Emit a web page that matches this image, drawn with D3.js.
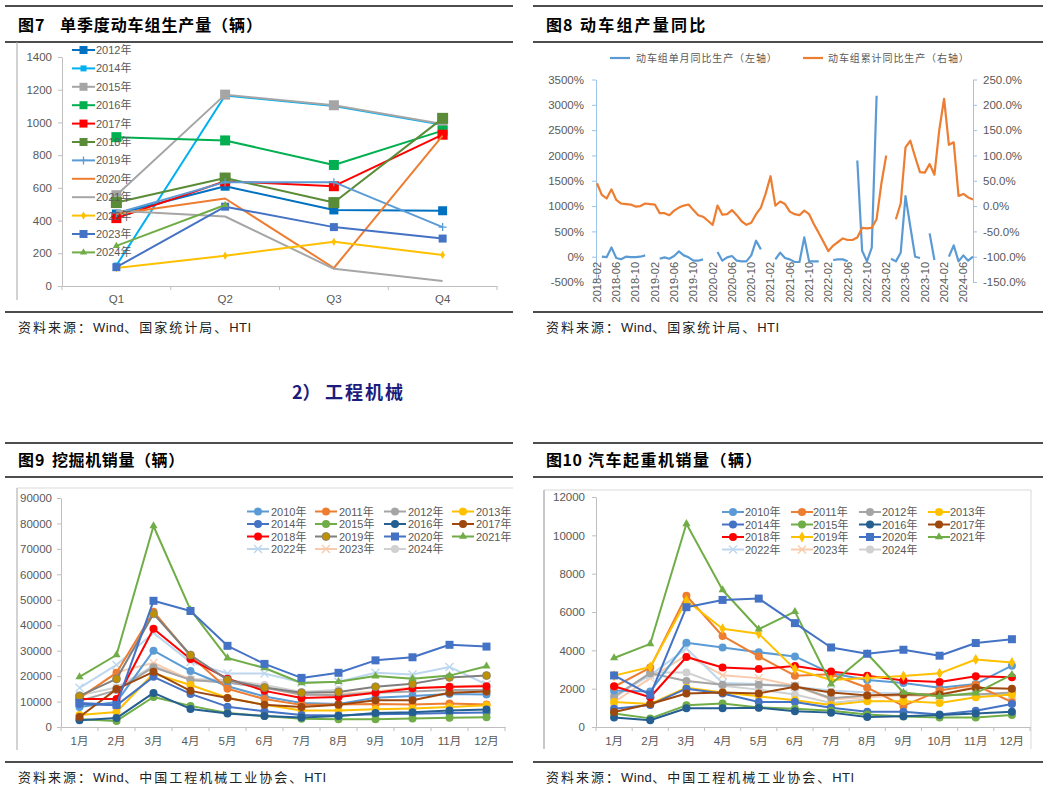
<!DOCTYPE html>
<html><head><meta charset="utf-8">
<script src="https://cdn.jsdelivr.net/npm/d3@7"></script>
<style>
body{margin:0;background:#fff;}
</style></head><body>
<svg id="c" width="1049" height="789"></svg>
<script>
// ================= DATA =================
// Fig 7: quarterly EMU production
const f7Quarters = ["Q1","Q2","Q3","Q4"];
const f7Ticks = [0,200,400,600,800,1000,1200,1400];
const f7Names = ["2012年","2014年","2015年","2016年","2017年","2018年","2019年","2020年","2021年","2022年","2023年","2024年"];
const f7_2012 = [440, 610, 465, 460];
const f7_2014 = [125, 1165, 1100, 985];
const f7_2015 = [555, 1170, 1105, 990];
const f7_2016 = [910, 890, 740, 950];
const f7_2017 = [415, 640, 610, 925];
const f7_2018 = [510, 660, 510, 1025];
const f7_2019 = [445, 635, 635, 360];
const f7_2020 = [440, 535, 110, 920];
const f7_2021 = [460, 425, 105, 30];
const f7_2022 = [110, 185, 270, 190];
const f7_2023 = [115, 485, 360, 290];
const f7_2024 = [245, 495, null, null];

// Fig 8: EMU production YoY (monthly from 2018-02 to 2024-08)
const f8Start = "2018-02", f8End = "2024-08";
const f8TickLabels = ["2018-02","2018-06","2018-10","2019-02","2019-06","2019-10","2020-02","2020-06","2020-10","2021-02","2021-06","2021-10","2022-02","2022-06","2022-10","2023-02","2023-06","2023-10","2024-02","2024-06"];
const f8LeftTicks = [-500,0,500,1000,1500,2000,2500,3000,3500];
const f8RightTicks = [-150,-100,-50,0,50,100,150,200,250];
const f8Single = [null,0,-10,184,-26,-50,0,-10,-10,0,26,null,null,-40,-13,-40,13,105,26,-13,-79,-79,-53,null,null,92,-79,-13,13,-79,-92,-92,26,316,145,null,null,-53,79,-26,-53,-105,-105,382,-92,-92,-92,null,null,-66,-53,-53,-92,null,1900,118,-92,180,3180,null,null,-40,-92,79,1197,592,0,-26,null,460,-66,null,null,0,224,-92,26,-79,0];
const f8Cum = [45,22,15,33,12,5,4,3,-1,0,5,4,3,-14,-14,-18,-9,-3,1,3,-8,-18,-21,-29,-37,1,-17,-16,-8,-18,-30,-37,-33,-16,-3,25,59,1,9,4,-11,-16,-18,-9,-16,-36,-53,-71,-89,-78,-71,-64,-67,-67,-62,-43,-44,-43,-26,45,100,null,-26,5,116,129,97,67,66,83,62,150,212,121,126,20,24,17,13];

// Fig 9: excavator sales
const monthsCN = ["1月","2月","3月","4月","5月","6月","7月","8月","9月","10月","11月","12月"];
const f9Ticks = [0,10000,20000,30000,40000,50000,60000,70000,80000,90000];
const yearNames = ["2010年","2011年","2012年","2013年","2014年","2015年","2016年","2017年","2018年","2019年","2020年","2021年","2022年","2023年","2024年"];
const f9_2010 = [7900, 9800, 30000, 22000, 16000, 12000, 9400, 9000, 11500, 12200, 13000, 12800];
const f9_2011 = [11500, 21300, 45300, 28000, 15000, 11000, 8700, 8800, 9000, 8800, 9200, 8800];
const f9_2012 = [10200, 14500, 23500, 18500, 17500, 15500, 12800, 12500, 13500, 14000, 14500, 14500];
const f9_2013 = [4700, 5900, 21000, 16500, 11500, 8700, 6500, 6500, 7000, 7300, 7900, 8500];
const f9_2014 = [9000, 8500, 19700, 13000, 8000, 6200, 4700, 4500, 5000, 5200, 5500, 5700];
const f9_2015 = [3000, 2400, 11800, 8300, 5500, 4300, 3200, 3000, 3000, 3300, 3600, 3800];
const f9_2016 = [2700, 3500, 13400, 7100, 5300, 4300, 3700, 4300, 5500, 5800, 6500, 6900];
const f9_2017 = [3900, 14900, 21700, 14200, 11400, 8700, 7900, 8700, 10500, 10500, 13500, 14000];
const f9_2018 = [11000, 11000, 38600, 26700, 19000, 14200, 11400, 11800, 13500, 15200, 15800, 16000];
const f9_2019 = [12200, 18900, 44500, 28300, 18500, 15500, 13500, 13800, 15800, 17000, 19500, 20200];
const f9_2020 = [9400, 8700, 49600, 45600, 31900, 24800, 19300, 21300, 26200, 27400, 32300, 31600];
const f9_2021 = [19700, 28300, 79000, 46000, 27100, 23200, 17300, 17800, 20000, 19000, 20200, 23900];
const f9_2022 = [15400, 24400, 37000, 25500, 21000, 21000, 17500, 17800, 21300, 20600, 23600, 16700];
const f9_2023 = [11000, 21500, 25200, 18500, 17500, 15500, 12500, 13000, 14000, 15500, 15500, 16500];
const f9_2024 = [12500, 15500, 24000, 18900, 18500, 16500, 13800, 14600];

// Fig 10: truck crane sales
const f10Ticks = [0,2000,4000,6000,8000,10000,12000];
const f10_2010 = [1900, 1850, 4400, 4150, 3900, 3680, 2800, 2450, 2300, 2050, 2250, 3200];
const f10_2011 = [2100, 3100, 6850, 4750, 3680, 2680, 2750, 2050, 1100, 1900, 2200, 1300];
const f10_2012 = [1600, 2800, 2400, 2200, 2200, 2150, 1500, 1650, 1700, 1650, 1700, 1800];
const f10_2013 = [1300, 1200, 2050, 1800, 1600, 1400, 1150, 1350, 1350, 1250, 1550, 1700];
const f10_2014 = [950, 1150, 2000, 1750, 1300, 1300, 1000, 800, 800, 650, 850, 1200];
const f10_2015 = [700, 450, 1130, 1230, 1020, 950, 850, 650, 550, 500, 500, 620];
const f10_2016 = [500, 350, 980, 980, 1010, 820, 750, 520, 560, 620, 700, 800];
const f10_2017 = [780, 1200, 1750, 1800, 1750, 2100, 1800, 1650, 1700, 1700, 2050, 2000];
const f10_2018 = [2130, 1550, 3650, 3100, 3020, 3180, 2900, 2680, 2430, 2350, 2650, 2600];
const f10_2019 = [2680, 3130, 6600, 5130, 4870, 3020, 2450, 2560, 2660, 2800, 3520, 3360];
const f10_2020 = [2690, 1680, 6250, 6630, 6700, 5420, 4150, 3820, 4030, 3720, 4380, 4580];
const f10_2021 = [3600, 4340, 10600, 7150, 5100, 6020, 2240, 3820, 1800, 1600, 1770, 2730];
const f10_2022 = [1600, 2700, 4100, 2300, 2250, 2100, 1900, 1800, 1750, 1650, 1700, 1700];
const f10_2023 = [1300, 2550, 3750, 2700, 2550, 2150, 1450, 1550, 1650, 1600, 2150, 1300];
const f10_2024 = [1500, 2850, 2850, 2150, 1950, 1700, 1250, 1450];

// ================= STYLES =================
const TXT = "#595959", AX = "#BFBFBF";
const LATIN = "'Liberation Sans', Arial, 'Noto Sans CJK SC', sans-serif";
const CJK = "'Noto Sans CJK SC', sans-serif";

const f7Styles = [
  {c:"#0070C0", m:"square", s:9},
  {c:"#00B0F0", m:"square", s:6},
  {c:"#A5A5A5", m:"square", s:10},
  {c:"#00B050", m:"square", s:10},
  {c:"#FF0000", m:"square", s:10},
  {c:"#5A8C37", m:"square", s:11},
  {c:"#5B9BD5", m:"plus",   s:4},
  {c:"#ED7D31", m:null},
  {c:"#A6A6A6", m:null},
  {c:"#FFC000", m:"diamond", s:6},
  {c:"#4472C4", m:"square", s:8},
  {c:"#70AD47", m:"triangle", s:7}
];
const yearStyles9 = [
  {c:"#5B9BD5", m:"circle", s:8},
  {c:"#ED7D31", m:"circle", s:8},
  {c:"#A5A5A5", m:"circle", s:8},
  {c:"#FFC000", m:"circle", s:8},
  {c:"#4472C4", m:"circle", s:8},
  {c:"#70AD47", m:"circle", s:8},
  {c:"#255E91", m:"circle", s:8},
  {c:"#9E480E", m:"circle", s:8},
  {c:"#FF0000", m:"circle", s:8},
  {c:"#7F7F7F", m:"circle", s:8, mc:"#BF9000"},
  {c:"#4472C4", m:"square", s:8},
  {c:"#70AD47", m:"triangle", s:8},
  {c:"#BDD7EE", m:"times", s:4},
  {c:"#F8CBAD", m:"times", s:4},
  {c:"#D0D0D0", m:"circle", s:8}
];
const yearStyles10 = yearStyles9.map((d,i)=> i===9 ? {c:"#FFC000", m:"diamond", s:8} : d);

// ================= HELPERS =================
const svg = d3.select("#c");
svg.append("rect").attr("width",1049).attr("height",789).attr("fill","#fff");

function rule(x0,x1,y){ svg.append("line").attr("x1",x0).attr("x2",x1).attr("y1",y).attr("y2",y).attr("stroke","#4d4d4d").attr("stroke-width",1.8); }
function ctext(x,y,str,size,weight,spacing,color){
  return svg.append("text").attr("x",x).attr("y",y).text(str)
    .attr("font-family",CJK).attr("font-size",size).attr("font-weight",weight||400)
    .attr("letter-spacing",spacing||0).attr("fill",color||"#000");
}
// mixed CJK/Latin source line: CJK parts spaced, Latin parts tight
function sourceText(x,y,parts){
  const t = svg.append("text").attr("x",x).attr("y",y).attr("font-size",13).attr("fill","#222");
  parts.forEach(p=>{
    const latin = /^[A-Za-z]+$/.test(p);
    t.append("tspan").text(p)
      .attr("font-family", latin ? "'Liberation Sans', Arial, sans-serif" : CJK)
      .attr("letter-spacing", latin ? 0.4 : 2);
  });
}
function marker(g, type, cx, cy, color, size, stroke){
  if(!type) return;
  let p;
  if(type==="plus"){
    p = g.append("path").attr("d",`M${-size},0L${size},0M0,${-size}L0,${size}`).attr("fill","none").attr("stroke",color).attr("stroke-width",1.3);
  } else if(type==="times"){
    p = g.append("path").attr("d",`M${-size},${-size}L${size},${size}M${-size},${size}L${size},${-size}`).attr("fill","none").attr("stroke",color).attr("stroke-width",1.4);
  } else {
    let sym, area;
    if(type==="square"){ sym=d3.symbolSquare; area=size*size; }
    else if(type==="circle"){ sym=d3.symbolCircle; area=Math.PI*size*size/4; }
    else if(type==="triangle"){ sym=d3.symbolTriangle; area=size*size*0.45; }
    else { sym=d3.symbolDiamond; area=size*size*0.55; }
    p = g.append("path").attr("d", d3.symbol().type(sym).size(area)()).attr("fill",color);
    if(stroke) p.attr("stroke",stroke).attr("stroke-width",0.8);
  }
  p.attr("transform",`translate(${cx},${cy})`);
}
function styleAxis(a, fs){
  a.select(".domain").attr("stroke",AX);
  a.selectAll(".tick line").attr("stroke",AX);
  a.selectAll("text").attr("fill",TXT).attr("font-size",fs).attr("font-family",LATIN);
}
function catChart(o){
  const g = svg.append("g");
  const x = d3.scaleBand().domain(o.cats).range([o.x0,o.x1]).padding(0);
  const y = d3.scaleLinear().domain(o.yDomain).range([o.yB,o.yT]);
  const ya = g.append("g").attr("transform",`translate(${o.x0},0)`)
    .call(d3.axisLeft(y).tickValues(o.yTicks).tickSize(4).tickSizeOuter(0).tickPadding(o.yPad).tickFormat(d3.format("d")));
  styleAxis(ya, o.fs);
  const xa = g.append("g").attr("transform",`translate(0,${o.yB})`)
    .call(d3.axisBottom(x).tickSize(0).tickPadding(o.xPad));
  styleAxis(xa, o.fs);
  d3.range(o.cats.length+1).forEach(i=>{
    const bx = x.range()[0] + i*x.step();
    g.append("line").attr("x1",bx).attr("x2",bx).attr("y1",o.yB).attr("y2",o.yB+4).attr("stroke",AX);
  });
  const bw = x.bandwidth()/2;
  o.series.forEach(s=>{
    const pts = o.cats.map((c,i)=>({c, v: i < s.values.length ? s.values[i] : null}));
    const line = d3.line().defined(d=>d.v!=null).x(d=>x(d.c)+bw).y(d=>y(d.v));
    g.append("path").datum(pts).attr("d",line).attr("fill","none")
      .attr("stroke",s.st.c).attr("stroke-width",o.lw||2).attr("stroke-linejoin","round");
    pts.filter(d=>d.v!=null).forEach(d=> marker(g, s.st.m, x(d.c)+bw, y(d.v), s.st.mc||s.st.c, s.st.s, s.st.mc?s.st.c:null));
  });
  return g;
}
function legendItem(x0, xt, y, name, st, len){
  const g = svg.append("g");
  g.append("line").attr("x1",x0).attr("x2",x0+len).attr("y1",y).attr("y2",y).attr("stroke",st.c).attr("stroke-width",2);
  marker(g, st.m, x0+len/2, y, st.mc||st.c, st.m==="plus"||st.m==="times"?st.s:Math.min(st.s,8), st.mc?st.c:null);
  g.append("text").attr("x",xt).attr("y",y+4).text(name).attr("font-family",LATIN).attr("font-size",11).attr("fill",TXT);
}

// ================= FRAMES =================
rule(5,513,6); rule(5,513,42); rule(5,513,312);
rule(533,1043,6); rule(533,1043,42); rule(533,1043,312);
rule(5,513,443); rule(5,513,477); rule(5,513,762);
rule(533,1043,443); rule(533,1043,477); rule(533,1043,762);

ctext(18,31,"图7",16,700,1);
ctext(60,31,"单季度动车组生产量（辆）",16,700,0.9);
ctext(546,31,"图8",16,700,1);
ctext(580,31,"动车组产量同比",16,700,2.2);
ctext(18,466,"图9",16,700,1);
ctext(52,466,"挖掘机销量（辆）",16,700,0.6);
ctext(546,466,"图10",16,700,0.5);
ctext(588,466,"汽车起重机销量（辆）",16,700,1.5);

sourceText(18,332,["资料来源：","Wind","、国家统计局、","HTI"]);
sourceText(546,332,["资料来源：","Wind","、国家统计局、","HTI"]);
sourceText(18,782,["资料来源：","Wind","、中国工程机械工业协会、","HTI"]);
sourceText(546,782,["资料来源：","Wind","、中国工程机械工业协会、","HTI"]);

ctext(292,399,"2）",18,700,0,"#1c1c7c");
ctext(325,399,"工程机械",18,700,2,"#1c1c7c");

// chart area borders
svg.append("line").attr("x1",17).attr("x2",17).attr("y1",42).attr("y2",300).attr("stroke","#A6A6A6");
svg.append("line").attr("x1",17).attr("x2",513).attr("y1",488).attr("y2",488).attr("stroke","#D9D9D9");
svg.append("line").attr("x1",17).attr("x2",17).attr("y1",488).attr("y2",750).attr("stroke","#A6A6A6");
svg.append("path").attr("d","M544,749V490H1031V749").attr("fill","none").attr("stroke","#D9D9D9");
svg.append("line").attr("x1",544).attr("x2",544).attr("y1",490).attr("y2",749).attr("stroke","#A6A6A6");

// ================= FIG 7 =================
const f7Vals = [f7_2012,f7_2014,f7_2015,f7_2016,f7_2017,f7_2018,f7_2019,f7_2020,f7_2021,f7_2022,f7_2023,f7_2024];
catChart({cats:f7Quarters, x0:62, x1:497, yB:286, yT:57, yDomain:[0,1400], yTicks:f7Ticks, yPad:6, xPad:9, fs:11.5, lw:2,
  series: f7Vals.map((v,i)=>({values:v, st:f7Styles[i]}))});
f7Names.forEach((n,i)=> legendItem(72, 96, 50 + i*18.4, n, f7Styles[i], 23));

// ================= FIG 8 =================
(function(){
  const months = [];
  let d = d3.timeParse("%Y-%m")(f8Start); const end = d3.timeParse("%Y-%m")(f8End);
  while(d <= end){ months.push(d3.timeFormat("%Y-%m")(d)); d = d3.timeMonth.offset(d,1); }
  const g = svg.append("g");
  const x = d3.scalePoint().domain(months).range([597,973]);
  const yL = d3.scaleLinear().domain([-500,3500]).range([282,79.5]);
  const yR = d3.scaleLinear().domain([-150,250]).range([282,79.5]);
  const AXB = "#9DC3E6";
  const la = g.append("g").attr("transform","translate(596,0)")
    .call(d3.axisLeft(yL).tickValues(f8LeftTicks).tickSize(4).tickSizeOuter(0).tickPadding(8).tickFormat(v=>v+"%"));
  styleAxis(la, 11.5); la.select(".domain").attr("stroke",AXB); la.selectAll(".tick line").attr("stroke",AXB);
  const ra = g.append("g").attr("transform","translate(973,0)")
    .call(d3.axisRight(yR).tickValues(f8RightTicks).tickSize(4).tickSizeOuter(0).tickPadding(6).tickFormat(v=>v.toFixed(1)+"%"));
  styleAxis(ra, 11.5); ra.select(".domain").attr("stroke",AXB); ra.selectAll(".tick line").attr("stroke",AXB);
  f8TickLabels.forEach(lbl=>{
    g.append("text").attr("transform",`translate(${x(lbl)},262) rotate(-90)`).attr("text-anchor","end").attr("dy","0.35em")
      .text(lbl).attr("font-family",LATIN).attr("font-size",11).attr("fill",TXT);
  });
  const ptsS = months.map((m,i)=>({m, v:f8Single[i]}));
  const ptsC = months.map((m,i)=>({m, v:f8Cum[i]}));
  g.append("path").datum(ptsS).attr("d", d3.line().defined(d=>d.v!=null).x(d=>x(d.m)).y(d=>yL(d.v)))
    .attr("fill","none").attr("stroke","#5B9BD5").attr("stroke-width",2.2).attr("stroke-linejoin","round");
  g.append("path").datum(ptsC).attr("d", d3.line().defined(d=>d.v!=null).x(d=>x(d.m)).y(d=>yR(d.v)))
    .attr("fill","none").attr("stroke","#ED7D31").attr("stroke-width",2.2).attr("stroke-linejoin","round");
  // legend
  g.append("line").attr("x1",610).attr("x2",630).attr("y1",58).attr("y2",58).attr("stroke","#5B9BD5").attr("stroke-width",2.2);
  g.append("text").attr("x",636).attr("y",62).text("动车组单月同比生产（左轴）").attr("font-family",CJK).attr("font-size",10).attr("letter-spacing",0.9).attr("fill",TXT);
  g.append("line").attr("x1",803).attr("x2",823).attr("y1",58).attr("y2",58).attr("stroke","#ED7D31").attr("stroke-width",2.2);
  g.append("text").attr("x",828).attr("y",62).text("动车组累计同比生产（右轴）").attr("font-family",CJK).attr("font-size",10).attr("letter-spacing",0.9).attr("fill",TXT);
})();

// ================= FIG 9 =================
const f9Vals = [f9_2010,f9_2011,f9_2012,f9_2013,f9_2014,f9_2015,f9_2016,f9_2017,f9_2018,f9_2019,f9_2020,f9_2021,f9_2022,f9_2023,f9_2024];
const drawOrder = [14,13,12,2,0,1,3,4,5,6,7,8,9,11,10];
catChart({cats:monthsCN, x0:61, x1:505, yB:727, yT:498, yDomain:[0,90000], yTicks:f9Ticks, yPad:5, xPad:10, fs:11.5, lw:2,
  series: drawOrder.map(i=>({values:f9Vals[i], st:yearStyles9[i]}))});
const lgX9 = [[247,271],[315,339],[384,408],[452,476]];
yearNames.forEach((n,i)=> legendItem(lgX9[i%4][0], lgX9[i%4][1], 511.5 + Math.floor(i/4)*12.5, n, yearStyles9[i], 22));

// ================= FIG 10 =================
const f10Vals = [f10_2010,f10_2011,f10_2012,f10_2013,f10_2014,f10_2015,f10_2016,f10_2017,f10_2018,f10_2019,f10_2020,f10_2021,f10_2022,f10_2023,f10_2024];
catChart({cats:monthsCN, x0:596, x1:1030, yB:727, yT:497, yDomain:[0,12000], yTicks:f10Ticks, yPad:7, xPad:10, fs:11.5, lw:2,
  series: drawOrder.map(i=>({values:f10Vals[i], st:yearStyles10[i]}))});
const lgX10 = [[722,745],[791,813],[859,882],[928,950]];
yearNames.forEach((n,i)=> legendItem(lgX10[i%4][0], lgX10[i%4][1], 512 + Math.floor(i/4)*12.5, n, yearStyles10[i], 22));
</script>
</body></html>
